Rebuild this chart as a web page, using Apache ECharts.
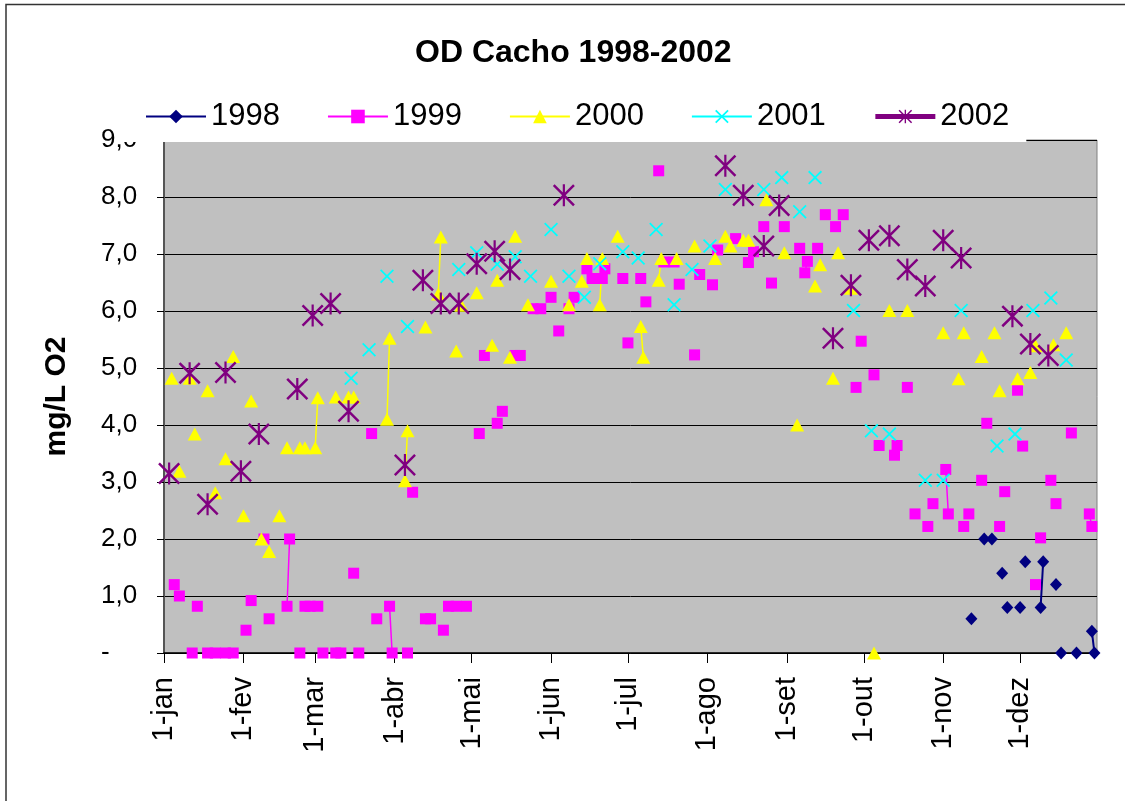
<!DOCTYPE html>
<html lang="pt">
<head>
    <meta charset="UTF-8">
    <title>OD Cacho 1998-2002</title>
    <script src="https://cdn.jsdelivr.net/npm/echarts/dist/echarts.min.js"></script>
    <style>
        body { margin: 0; background: #fff; }
        #chart { width: 1125px; height: 801px; }
    </style>
</head>
<body>
<div id="chart"></div>
<script type="text/javascript">
    // eixo x: dia do ano (0 = 1-jan)
    var monthStarts = [0, 31, 59, 90, 120, 151, 181, 212, 243, 273, 304, 334];
    var monthLabels = ['1-jan', '1-fev', '1-mar', '1-abr', '1-mai', '1-jun', '1-jul', '1-ago', '1-set', '1-out', '1-nov', '1-dez'];

    var days1998 = [315, 320, 323, 327, 329, 334, 336, 342, 343, 348, 350, 356, 362, 363];
    var od1998   = [0.6, 2.0, 2.0, 1.4, 0.8, 0.8, 1.6, 0.8, 1.6, 1.2, 0.0, 0.0, 0.38, 0.0];

    var days1999 = [4, 6, 11, 13, 17, 20, 24, 27, 32, 34, 39, 41, 48, 49, 53, 55, 57, 60, 62, 67, 69, 74, 76, 81, 83, 88, 89,
        95, 97, 102, 104, 109, 111, 114, 118, 123, 125, 130, 132, 137, 139, 144, 147, 151, 154, 158, 160, 165, 167, 171, 172,
        179, 181, 186, 188, 193, 195, 199, 201, 207, 209, 214, 216, 223, 228, 230, 234, 237, 242, 248, 250, 251, 255, 258,
        262, 265, 270, 272, 277, 279, 285, 286, 290, 293, 298, 300, 305, 306, 312, 314, 319, 321, 326, 328, 333, 335, 340,
        342, 346, 348, 354, 361, 362];
    var od1999   = [1.2, 1.0, 0.0, 0.82, 0.0, 0.0, 0.0, 0.0, 0.4, 0.92, 2.0, 0.6, 0.82, 2.0, 0.0, 0.82, 0.82, 0.82, 0.0, 0.0, 0.0, 1.4, 0.0, 3.85, 0.6, 0.82, 0.0,
        0.0, 2.82, 0.6, 0.6, 0.4, 0.82, 0.82, 0.82, 3.85, 5.22, 4.03, 4.24, 5.22, 5.22, 6.04, 6.04, 6.24, 5.65, 6.04, 6.24, 6.74, 6.57, 6.57, 6.74,
        6.57, 5.44, 6.57, 6.16, 8.46, 6.86, 6.86, 6.47, 5.23, 6.64, 6.46, 7.07, 7.27, 6.85, 7.04, 7.48, 6.49, 7.48, 7.10, 6.67, 6.87, 7.10, 7.69,
        7.48, 7.69, 4.66, 5.47, 4.88, 3.64, 3.47, 3.64, 4.66, 2.44, 2.22, 2.62, 3.22, 2.44, 2.22, 2.44, 3.03, 4.03, 2.22, 2.83, 4.61, 3.63, 1.20,
        2.02, 3.03, 2.62, 3.86, 2.44, 2.22];

    var days2000 = [3, 6, 10, 12, 17, 20, 24, 27, 31, 34, 38, 41, 45, 48, 53, 55, 59, 60, 67, 72, 74, 87, 88, 94, 95, 102, 107, 108,
        114, 116, 122, 128, 130, 135, 137, 142, 151, 158, 163, 165, 170, 171, 177, 186, 187, 193, 194, 200, 207, 215, 219, 221,
        226, 228, 235, 242, 247, 254, 256, 261, 263, 268, 277, 283, 290, 304, 310, 312, 319, 324, 326, 333, 338, 340, 347, 352];
    var od2000   = [4.82, 3.19, 4.82, 3.84, 4.60, 2.81, 3.41, 5.20, 2.41, 4.42, 2.0, 1.78, 2.41, 3.60, 3.60, 3.60, 3.60, 4.48, 4.49, 4.49, 4.49, 4.10, 5.52, 3.02, 3.90, 5.72, 6.30, 7.30,
        5.30, 6.10, 6.32, 5.40, 6.54, 5.19, 7.31, 6.11, 6.52, 6.11, 6.52, 6.92, 6.11, 6.92, 7.31, 5.73, 5.19, 6.54, 6.92, 6.92, 7.14, 6.92, 7.31, 7.14,
        7.24, 7.24, 7.95, 7.02, 4.0, 6.44, 6.81, 4.82, 7.02, 6.40, 0.0, 6.01, 6.01, 5.62, 4.81, 5.62, 5.20, 5.62, 4.60, 4.81, 4.92, 5.39, 5.41, 5.62];

    var days2001 = [73, 80, 87, 95, 115, 122, 130, 137, 143, 151, 158, 164, 170, 179, 185, 192, 199, 206, 213, 219, 234, 241,
        248, 254, 269, 276, 283, 297, 304, 311, 325, 332, 339, 346, 352];
    var od2001   = [4.82, 5.32, 6.61, 5.73, 6.73, 7.02, 6.82, 6.95, 6.61, 7.43, 6.61, 6.24, 6.83, 7.04, 6.93, 7.43, 6.11, 6.73, 7.14, 8.13, 8.13, 8.34,
        7.74, 8.34, 6.01, 3.90, 3.84, 3.03, 3.03, 6.01, 3.63, 3.84, 6.01, 6.23, 5.14];

    var days2002 = [2, 10, 17, 24, 30, 37, 52, 58, 65, 72, 94, 101, 108, 115, 122, 129, 135, 156, 219, 226, 234, 240,
        261, 268, 275, 283, 290, 297, 304, 311, 331, 338, 345];
    var od2002   = [3.15, 4.91, 2.61, 4.92, 3.19, 3.84, 4.63, 5.92, 6.13, 4.24, 3.30, 6.54, 6.13, 6.13, 6.83, 7.05, 6.73, 8.03, 8.55, 8.03, 7.14, 7.85,
        5.52, 6.45, 7.24, 7.32, 6.73, 6.44, 7.24, 6.93, 5.91, 5.42, 5.22];

    var SYM_X = 'path://M0,9L9,0L50,41L91,0L100,9L59,50L100,91L91,100L50,59L9,100L0,91L41,50Z';
    var SYM_AST = 'path://M0,8L8,0L50,42L92,0L100,8L58,50L100,92L92,100L50,58L8,100L0,92L42,50ZM45,0L55,0L55,100L45,100Z';

    // linha so liga dias consecutivos (como no Excel com celulas vazias)
    function pontos(days, vals) {
        var out = [];
        for (var i = 0; i < days.length; i++) {
            if (i > 0 && days[i] - days[i - 1] > 1) out.push([days[i] - 0.5, '-']);
            out.push([days[i], vals[i]]);
        }
        return out;
    }

    function serie(nome, days, vals, cor, simbolo, tam, largura) {
        return {
            name: nome,
            type: 'line',
            data: pontos(days, vals),
            connectNulls: false,
            symbol: simbolo,
            symbolSize: tam,
            showSymbol: true,
            itemStyle: { color: cor, opacity: 1 },
            lineStyle: { color: cor, width: largura },
            emphasis: { disabled: true }
        };
    }

    var font = 'Liberation Sans';
    var C = echarts.init(document.getElementById('chart'));
    C.setOption({
        animation: false,
        backgroundColor: '#fff',
        title: {
            text: 'OD Cacho 1998-2002',
            left: 415,
            top: 37,
            padding: 0,
            textStyle: { fontFamily: font, fontSize: 32, fontWeight: 'bold', color: '#000' }
        },
        legend: {
            left: 122,
            top: 89,
            padding: [12, 17, 10, 23],
            backgroundColor: '#fff',
            itemWidth: 60,
            itemHeight: 17,
            itemGap: 47,
            textStyle: { fontFamily: font, fontSize: 31, color: '#000' },
            data: [
                { name: '1998', lineStyle: { width: 2 } },
                { name: '1999', lineStyle: { width: 2 } },
                { name: '2000', lineStyle: { width: 2 } },
                { name: '2001', lineStyle: { width: 2 } },
                { name: '2002', lineStyle: { width: 5 } }
            ]
        },
        grid: {
            left: 164, right: 28, top: 140, bottom: 148,
            show: true,
            backgroundColor: '#c0c0c0',
            borderColor: '#808080',
            borderWidth: 1
        },
        xAxis: {
            type: 'value',
            min: 0,
            max: 364,
            axisLine: { lineStyle: { color: '#000', width: 1.5 } },
            axisTick: { customValues: monthStarts, length: 10, lineStyle: { color: '#000' } },
            axisLabel: {
                customValues: monthStarts,
                rotate: 90,
                margin: 24,
                fontFamily: font,
                fontSize: 29,
                color: '#000',
                formatter: function (v) {
                    var i = monthStarts.indexOf(v);
                    return i >= 0 ? monthLabels[i] : '';
                }
            },
            splitLine: { show: false }
        },
        yAxis: {
            type: 'value',
            min: 0,
            max: 9,
            interval: 1,
            name: 'mg/L O2',
            nameLocation: 'middle',
            nameRotate: 90,
            nameGap: 92,
            nameTextStyle: { fontFamily: font, fontSize: 30, fontWeight: 'bold', color: '#000' },
            axisLine: { show: true, lineStyle: { color: '#555', width: 2 } },
            axisTick: { show: true, length: 7, lineStyle: { color: '#000' } },
            axisLabel: {
                align: 'left',
                margin: 63,
                fontFamily: font,
                fontSize: 26,
                color: '#000',
                formatter: function (v) {
                    return v === 0 ? '-' : v.toFixed(1).replace('.', ',');
                }
            },
            splitLine: { lineStyle: { color: '#000', width: 1 } }
        },
        graphic: [{
            type: 'rect',
            shape: { x: 6, y: 4.5, width: 1300, height: 1000 },
            style: { fill: 'none', stroke: '#333', lineWidth: 1.5 },
            silent: true
        }],
        series: [
            serie('1998', days1998, od1998, '#000080', 'diamond', [12, 13], 2),
            serie('1999', days1999, od1999, '#ff00ff', 'rect', 11, 1.5),
            serie('2000', days2000, od2000, '#ffff00', 'triangle', [14, 13], 1.5),
            serie('2001', days2001, od2001, '#00ffff', SYM_X, 14, 2),
            serie('2002', days2002, od2002, '#800080', SYM_AST, 22, 4)
        ]
    });
</script>
</body>
</html>
